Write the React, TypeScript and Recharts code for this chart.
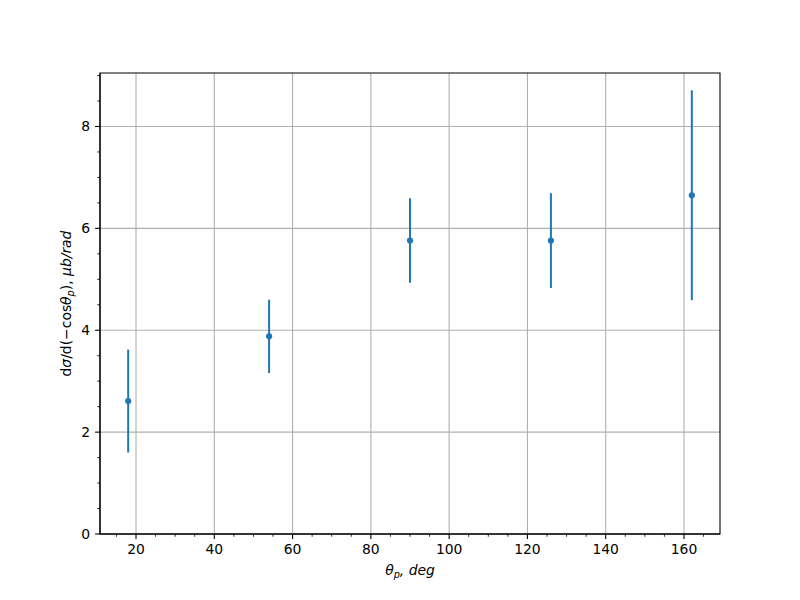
import { CartesianGrid, ErrorBar, ReferenceArea, Scatter, ScatterChart, XAxis, YAxis } from "recharts";

// measured points (angle in deg, cross-section in µb/rad)
const angles = [18, 54, 90, 126, 162];
const xsec = [2.61, 3.88, 5.76, 5.76, 6.65];
const xsecErr = [1.01, 0.72, 0.83, 0.93, 2.06];

const xMajor = [20, 40, 60, 80, 100, 120, 140, 160];
const xTicks = [
  15, 20, 25, 30, 35, 40, 45, 50, 55, 60, 65, 70, 75, 80, 85, 90,
  95, 100, 105, 110, 115, 120, 125, 130, 135, 140, 145, 150, 155, 160, 165,
];
const yMajor = [0, 2, 4, 6, 8];
const yTicks = [0, 0.5, 1, 1.5, 2, 2.5, 3, 3.5, 4, 4.5, 5, 5.5, 6, 6.5, 7, 7.5, 8, 8.5, 9];

const xDomain: [number, number] = [10.8, 169.2];
const yDomain: [number, number] = [0, 9.05];

const points = angles.map((a, i) => ({ angle: a, value: xsec[i], err: xsecErr[i] }));

const BLUE = "#1f77b4";
const FONT = "DejaVu Sans";
const FS = 13.9;

const XTick = ({ x, y, payload }: any) => {
  const major = xMajor.includes(payload.value);
  return (
    <g>
      <line x1={x} x2={x} y1={y} y2={y + (major ? 4.9 : 2.8)} stroke="#000" strokeWidth={major ? 1.1 : 0.8} />
      {major && (
        <text x={x} y={y + 9.8} dy="0.72em" textAnchor="middle" fontSize={FS} fontFamily={FONT} fill="#000">
          {payload.value}
        </text>
      )}
    </g>
  );
};

const YTick = ({ x, y, payload }: any) => {
  const major = yMajor.includes(payload.value);
  return (
    <g>
      <line x1={x - (major ? 4.9 : 2.8)} x2={x} y1={y} y2={y} stroke="#000" strokeWidth={major ? 1.1 : 0.8} />
      {major && (
        <text x={x - 9.8} y={y} dy="0.36em" textAnchor="end" fontSize={FS} fontFamily={FONT} fill="#000">
          {payload.value}
        </text>
      )}
    </g>
  );
};

const XLabel = ({ viewBox }: any) => {
  const cx = viewBox.x + viewBox.width / 2;
  return (
    <text x={cx} y={575} textAnchor="middle" fontSize={FS} fontFamily={FONT} fontStyle="italic" fill="#000">
      θ
      <tspan dy={3} fontSize={FS * 0.7}>p</tspan>
      <tspan dy={-3}>, deg</tspan>
    </text>
  );
};

const YLabel = ({ viewBox }: any) => {
  const cy = viewBox.y + viewBox.height / 2;
  const cx = 71;
  return (
    <text
      x={cx}
      y={cy}
      transform={`rotate(-90, ${cx}, ${cy})`}
      textAnchor="middle"
      fontSize={FS}
      fontFamily={FONT}
      fill="#000"
    >
      d<tspan fontStyle="italic">σ</tspan>/d(−cos<tspan fontStyle="italic">θ</tspan>
      <tspan dy={3} fontSize={FS * 0.7} fontStyle="italic">p</tspan>
      <tspan dy={-3}>), </tspan>
      <tspan fontStyle="italic">μb/rad</tspan>
    </text>
  );
};

export default function App() {
  return (
    <div style={{ position: "absolute", left: 0, top: 0, background: "#fff" }}>
      <ScatterChart width={800} height={600} margin={{ top: 73, right: 80, bottom: 26, left: 40 }}>
        <CartesianGrid stroke="#b0b0b0" strokeWidth={1.1} verticalValues={xMajor} horizontalValues={yMajor} />
        <XAxis
          dataKey="angle"
          type="number"
          domain={xDomain}
          ticks={xTicks}
          interval={0}
          height={40}
          tickSize={0}
          tickMargin={0}
          tickLine={false}
          tick={XTick}
          axisLine={{ stroke: "#000", strokeWidth: 1.1 }}
          allowDataOverflow
          label={{ content: XLabel }}
        />
        <YAxis
          dataKey="value"
          type="number"
          domain={yDomain}
          ticks={yTicks}
          interval={0}
          width={60}
          tickSize={0}
          tickMargin={0}
          tickLine={false}
          tick={YTick}
          axisLine={{ stroke: "#000", strokeWidth: 1.1 }}
          allowDataOverflow
          label={{ content: YLabel }}
        />
        <ReferenceArea
          x1={xDomain[0]}
          x2={xDomain[1]}
          y1={yDomain[0]}
          y2={yDomain[1]}
          fill="none"
          fillOpacity={0}
          stroke="#000"
          strokeWidth={1.1}
          strokeOpacity={1}
        />
        <Scatter
          data={points}
          fill={BLUE}
          isAnimationActive={false}
          shape={(p: any) => <circle cx={p.cx} cy={p.cy} r={3.1} fill={BLUE} />}
        >
          <ErrorBar dataKey="err" direction="y" width={0} stroke={BLUE} strokeWidth={2} isAnimationActive={false} />
        </Scatter>
      </ScatterChart>
    </div>
  );
}
